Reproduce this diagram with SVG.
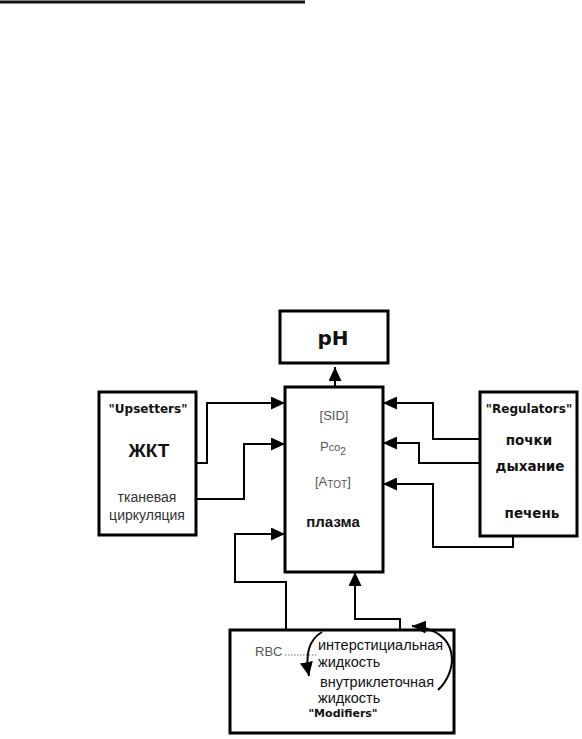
<svg xmlns="http://www.w3.org/2000/svg" width="582" height="739" viewBox="0 0 582 739">
<style>
.box{fill:#fff;stroke:#000;stroke-width:3}
.wire{fill:none;stroke:#000;stroke-width:2}
.b{font-family:"DejaVu Sans",Verdana,sans-serif;font-weight:bold;fill:#111}
.a{font-family:"Liberation Sans",Arial,sans-serif}
.g{fill:#555}
</style>
<defs>
<marker id="ah" markerUnits="userSpaceOnUse" markerWidth="15" markerHeight="13" refX="14" refY="6.5" orient="auto">
<path d="M0,0 L14,6.5 L0,13 z" fill="#000"/>
</marker>
</defs>
<rect x="0" y="0" width="305" height="4" fill="#888"/>
<rect x="0" y="1" width="305" height="2" fill="#111"/>
<g id="connectors">
<path class="wire" d="M335,387 V367" marker-end="url(#ah)"/>
<path class="wire" d="M196,463 H207 V403 H285" marker-end="url(#ah)"/>
<path class="wire" d="M196,499 H244 V444 H285" marker-end="url(#ah)"/>
<path class="wire" d="M480,439 H433 V403 H383" marker-end="url(#ah)"/>
<path class="wire" d="M480,463 H419 V443 H383" marker-end="url(#ah)"/>
<path class="wire" d="M513,536 V547 H433 V484 H383" marker-end="url(#ah)"/>
<path class="wire" d="M286,630 V582 H235 V534 H285" marker-end="url(#ah)"/>
<path class="wire" d="M400,630 V619 H355 V572" marker-end="url(#ah)"/>
</g>
<g id="ph">
<rect class="box" x="280" y="311" width="108" height="52"/>
<text x="333" y="345" font-family="DejaVu Sans,sans-serif" font-weight="bold" font-size="20" text-anchor="middle" fill="#111">pH</text>
</g>
<g id="plasma">
<rect class="box" x="285" y="387" width="98" height="185"/>
<text class="a g" x="334" y="420" font-size="13" text-anchor="middle">[SID]</text>
<text class="a g" x="320" y="451" font-size="13">P<tspan font-size="11">co</tspan><tspan font-size="10" dy="4">2</tspan></text>
<text class="a g" x="315" y="486" font-size="13">[A<tspan font-size="10" dy="2">TOT</tspan><tspan dy="-2">]</tspan></text>
<text class="a" x="333" y="527" font-size="15" font-weight="bold" text-anchor="middle" fill="#111">плазма</text>
</g>
<g id="upsetters">
<rect class="box" x="99" y="392" width="97" height="143"/>
<text class="b" x="148" y="413" font-size="12" text-anchor="middle">"Upsetters"</text>
<text class="a" x="149" y="457" font-size="19" font-weight="bold" text-anchor="middle" fill="#111">ЖКТ</text>
<text class="a" x="147" y="502" font-size="14" text-anchor="middle" fill="#333">тканевая</text>
<text class="a" x="147" y="520" font-size="14" text-anchor="middle" fill="#333">циркуляция</text>
</g>
<g id="regulators">
<rect class="box" x="480" y="392" width="97" height="144"/>
<text class="b" x="529" y="413" font-size="12" text-anchor="middle">"Regulators"</text>
<text class="b" x="529" y="445" font-size="13.5" text-anchor="middle">почки</text>
<text class="b" x="530" y="471" font-size="13.5" text-anchor="middle">дыхание</text>
<text class="b" x="532" y="518" font-size="13.5" text-anchor="middle">печень</text>
</g>
<g id="modifiers">
<rect class="box" x="230" y="630" width="224" height="103"/>
<text class="a g" x="255" y="656" font-size="13">RBC</text>
<line x1="285" y1="655" x2="318" y2="655" stroke="#777" stroke-width="1" stroke-dasharray="1.5,1.5"/>
<path class="wire" d="M438,690 C458,672 462,630 412,626" marker-end="url(#ah)" stroke-width="1.8"/>
<path class="wire" d="M322,632 C308,640 305,655 309,676" marker-end="url(#ah)" stroke-width="1.8"/>
<text class="a" x="318" y="650" font-size="14.5" fill="#111">интерстициальная</text>
<text class="a" x="318" y="667" font-size="14.5" fill="#111">жидкость</text>
<text class="a" x="320" y="687" font-size="14.5" fill="#111">внутриклеточная</text>
<text class="a" x="318" y="703" font-size="14.5" fill="#111">жидкость</text>
<text class="b" x="343" y="717" font-size="11" text-anchor="middle">"Modifiers"</text>
</g>
</svg>
